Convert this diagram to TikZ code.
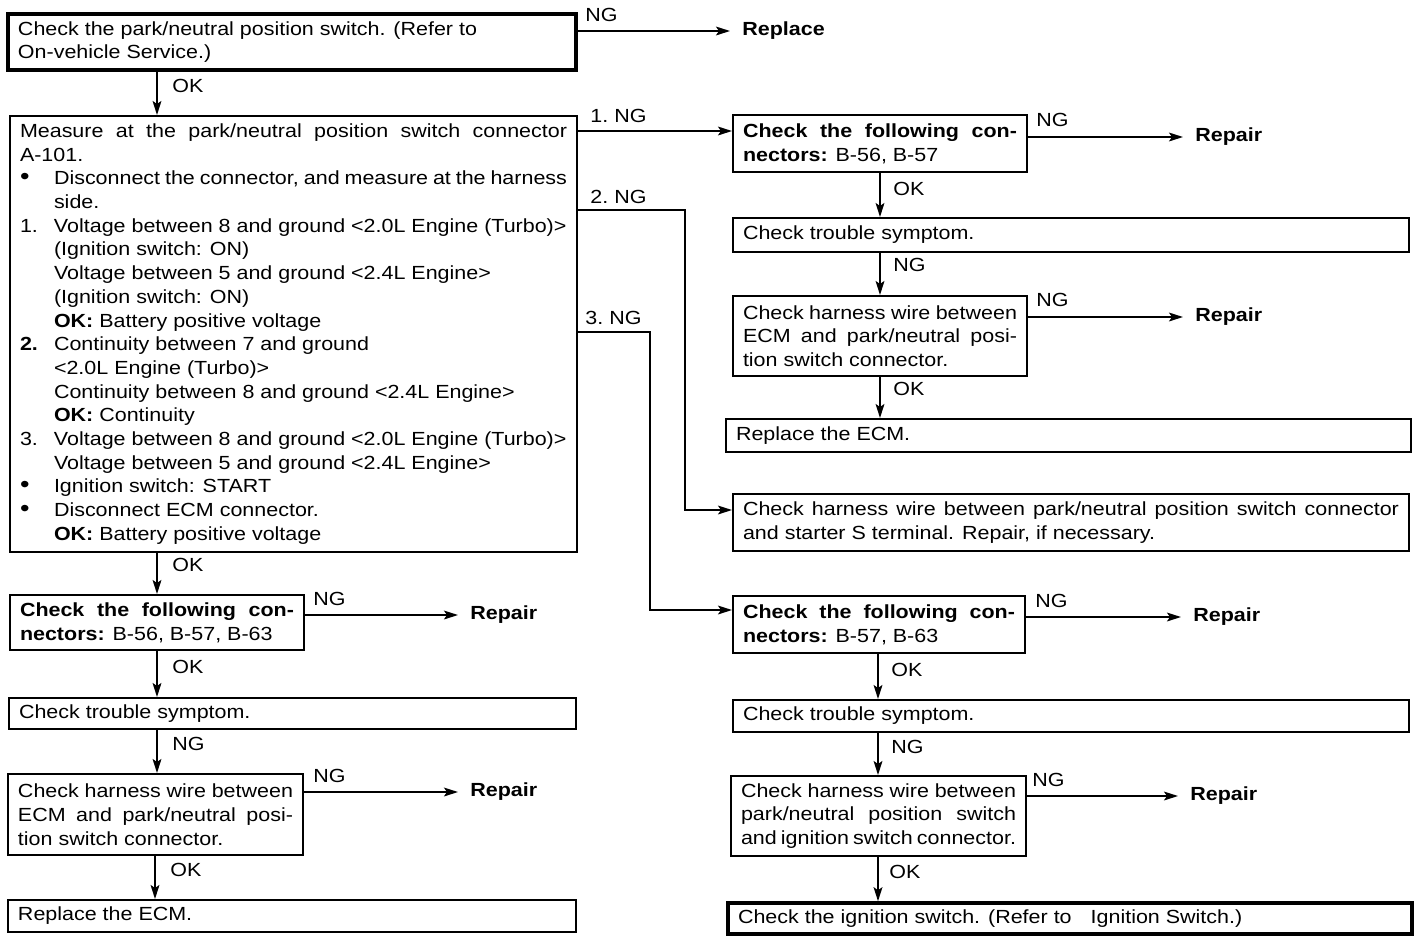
\documentclass[tikz,border=0pt]{standalone}
\usepackage{fontspec}
\setmainfont{Liberation Sans}[FakeStretch=1.13]
\usetikzlibrary{arrows.meta,calc}
\newcommand\myjus[1]{\makebox[\hsize][s]{\spaceskip=0pt\xspaceskip=0pt #1}}
\newcommand\mybul{{\fontsize{12}{10}\selectfont•}}
\newcommand\myind[2]{\makebox[17pt][l]{#1}#2}
\newcommand\myindj[2]{\makebox[17pt][l]{#1}\makebox[\dimexpr\hsize-17pt\relax][s]{\spaceskip=0pt\xspaceskip=0pt #2}}
\begin{document}
\begin{tikzpicture}[x=0.5pt,y=-0.5pt,
  box/.style={draw, line width=1pt, inner xsep=5pt, inner ysep=0pt, align=left,
    font=\fontsize{9.5}{11.85}\selectfont,
    execute at begin node={\spaceskip=0pt\xspaceskip=0pt}},
  thickbox/.style={box, line width=1.8pt},
  lbl/.style={inner sep=0pt, anchor=west, font=\fontsize{9.5}{11}\selectfont},
  res/.style={inner sep=0pt, anchor=west, font=\fontsize{9.5}{11}\selectfont\bfseries},
  arr/.style={line width=0.9pt, -{Stealth[length=7pt,width=4.4pt,inset=1.5pt]}},
  rarr/.style={arr, shorten >=6pt}]
\useasboundingbox (0,0) rectangle (1424,944);

% ---------- boxes ----------
\node[thickbox, minimum width=284pt, minimum height=28pt, text width=274pt] (A) at (292,42)
  {Check the park/neutral position switch. (Refer to\\On-vehicle Service.)};

\node[box, minimum width=283.5pt, minimum height=218pt, text width=273.5pt] (B) at (293.5,334)
  {\myjus{Measure at the park/neutral position switch connector}\\
   A-101.\\
   \myindj{\mybul}{Disconnect the connector, and measure at the harness}\\
   \myind{}{side.}\\
   \myind{1.}{Voltage between 8 and ground <2.0L Engine (Turbo)>}\\
   \myind{}{(Ignition switch: ON)}\\
   \myind{}{Voltage between 5 and ground <2.4L Engine>}\\
   \myind{}{(Ignition switch: ON)}\\
   \myind{}{\textbf{OK:} Battery positive voltage}\\
   \myind{\textbf{2.}}{Continuity between 7 and ground}\\
   \myind{}{<2.0L Engine (Turbo)>}\\
   \myind{}{Continuity between 8 and ground <2.4L Engine>}\\
   \myind{}{\textbf{OK:} Continuity}\\
   \myind{3.}{Voltage between 8 and ground <2.0L Engine (Turbo)>}\\
   \myind{}{Voltage between 5 and ground <2.4L Engine>}\\
   \myind{\mybul}{Ignition switch: START}\\
   \myind{\mybul}{Disconnect ECM connector.}\\
   \myind{}{\textbf{OK:} Battery positive voltage}};

% right column (1. NG)
\node[box, minimum width=147pt, minimum height=28.5pt, text width=137pt] (C1) at (880,143.5)
  {\myjus{\bfseries Check the following con-}\\\textbf{nectors:} B-56, B-57};
\node[box, minimum width=338pt, minimum height=17pt, text width=328pt] (C2) at (1071,235)
  {Check trouble symptom.};
\node[box, minimum width=147pt, minimum height=40pt, text width=137pt] (C3) at (880,336)
  {\myjus{Check harness wire between}\\\myjus{ECM and park/neutral posi-}\\tion switch connector.};
\node[box, minimum width=342.5pt, minimum height=16.5pt, text width=332.5pt] (C4) at (1068.5,435.5)
  {Replace the ECM.};

% 2. NG
\node[box, minimum width=338pt, minimum height=28.5pt, text width=328pt] (D) at (1071,522.5)
  {\myjus{Check harness wire between park/neutral position switch connector}\\and starter S terminal. Repair, if necessary.};

% 3. NG
\node[box, minimum width=146pt, minimum height=28.5pt, text width=136pt] (E1) at (879,624.5)
  {\myjus{\bfseries Check the following con-}\\\textbf{nectors:} B-57, B-63};
\node[box, minimum width=338pt, minimum height=16pt, text width=328pt] (E2) at (1071,716)
  {Check trouble symptom.};
\node[box, minimum width=147.5pt, minimum height=40pt, text width=137.5pt] (E3) at (878.5,816)
  {\myjus{Check harness wire between}\\\myjus{park/neutral position switch}\\\myjus{and ignition switch connector.}};
\node[thickbox, minimum width=342pt, minimum height=15.5pt, text width=332pt] (E4) at (1070,918.5)
  {Check the ignition switch. (Refer to\hspace{1em}Ignition Switch.)};

% left lower column
\node[box, minimum width=147pt, minimum height=27.5pt, text width=137pt] (F1) at (157,622.5)
  {\myjus{\bfseries Check the following con-}\\\textbf{nectors:} B-56, B-57, B-63};
\node[box, minimum width=283.5pt, minimum height=15.5pt, text width=273.5pt] (F2) at (292.5,713.5)
  {Check trouble symptom.};
\node[box, minimum width=147.5pt, minimum height=40.5pt, text width=137.5pt] (F3) at (155.5,814.5)
  {\myjus{Check harness wire between}\\\myjus{ECM and park/neutral posi-}\\tion switch connector.};
\node[box, minimum width=284pt, minimum height=16pt, text width=274pt] (F4) at (292,916)
  {Replace the ECM.};

% ---------- result texts ----------
\node[res] (R0) at (742,31) {Replace};
\node[res] (R1) at (1195,137) {Repair};
\node[res] (R2) at (1195,317) {Repair};
\node[res] (R3) at (1193,617) {Repair};
\node[res] (R4) at (1190,796) {Repair};
\node[res] (R5) at (470,615) {Repair};
\node[res] (R6) at (470,792) {Repair};

% ---------- helper coordinates ----------
\coordinate (xl) at (157,0);
\coordinate (xl2) at (155,0);
\coordinate (xr) at (880,0);
\coordinate (xe) at (878,0);
\coordinate (y1) at (0,131);
\coordinate (y2) at (685,210);
\coordinate (k2) at (685,510);
\coordinate (y3) at (650,332);
\coordinate (k3) at (650,610);

% ---------- vertical connectors ----------
\draw[arr] (A.south -| xl) -- (B.north -| xl);
\draw[arr] (B.south -| xl) -- (F1.north -| xl);
\draw[arr] (F1.south -| xl) -- (F2.north -| xl);
\draw[arr] (F2.south -| xl) -- (F3.north -| xl);
\draw[arr] (F3.south -| xl2) -- (F4.north -| xl2);
\draw[arr] (C1.south -| xr) -- (C2.north -| xr);
\draw[arr] (C2.south -| xr) -- (C3.north -| xr);
\draw[arr] (C3.south -| xr) -- (C4.north -| xr);
\draw[arr] (E1.south -| xe) -- (E2.north -| xe);
\draw[arr] (E2.south -| xe) -- (E3.north -| xe);
\draw[arr] (E3.south -| xe) -- (E4.north -| xe);

% ---------- horizontal connectors ----------
\draw[rarr] (A.east |- R0.west) -- (R0.west);
\draw[arr] (B.east |- y1) -- (C1.west |- y1);
\draw[arr] (B.east |- y2) -- (y2) -- (k2) -- (D.west |- k2);
\draw[arr] (B.east |- y3) -- (y3) -- (k3) -- (E1.west |- k3);
\draw[rarr] (C1.east |- R1.west) -- (R1.west);
\draw[rarr] (C3.east |- R2.west) -- (R2.west);
\draw[rarr] (E1.east |- R3.west) -- (R3.west);
\draw[rarr] (E3.east |- R4.west) -- (R4.west);
\draw[rarr] (F1.east |- R5.west) -- (R5.west);
\draw[rarr] (F3.east |- R6.west) -- (R6.west);

% ---------- labels ----------
\node[lbl] (n0) at (585,15) {NG};
\node[lbl] (o1) at (172,86) {OK};
\node[lbl] (g1) at (590,116) {1.\ NG};
\node[lbl] (g2) at (590,197) {2.\ NG};
\node[lbl] (g3) at (585,318) {3.\ NG};
\node[lbl] (n1) at (1036,120) {NG};
\node[lbl] (o2) at (893,189) {OK};
\node[lbl] (n2) at (893,265) {NG};
\node[lbl] (n3) at (1036,300) {NG};
\node[lbl] (o3) at (893,389) {OK};
\node[lbl] (n4) at (1035,601) {NG};
\node[lbl] (o4) at (891,670) {OK};
\node[lbl] (n5) at (891,747) {NG};
\node[lbl] (n6) at (1032,780) {NG};
\node[lbl] (o5) at (889,872) {OK};
\node[lbl] (o6) at (172,565) {OK};
\node[lbl] (n7) at (313,599) {NG};
\node[lbl] (o7) at (172,667) {OK};
\node[lbl] (n8) at (172,744) {NG};
\node[lbl] (n9) at (313,776) {NG};
\node[lbl] (o8) at (170,870) {OK};
\end{tikzpicture}
\end{document}
